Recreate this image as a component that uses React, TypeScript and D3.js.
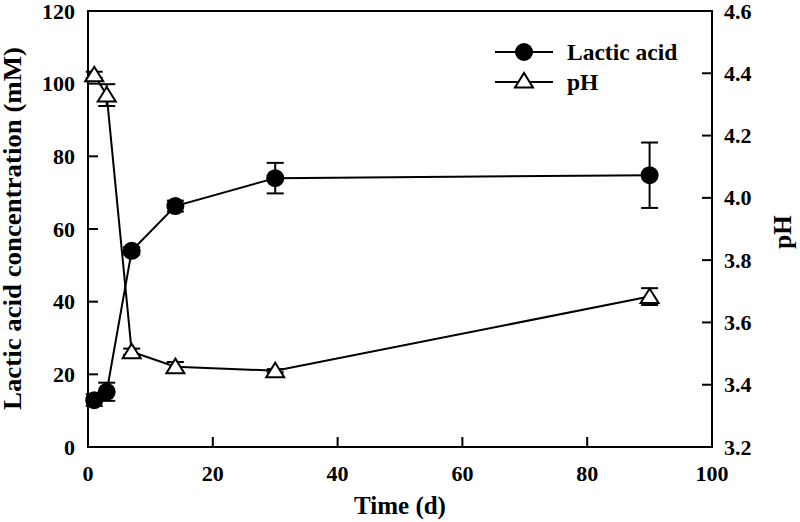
import React from "react";
import * as d3 from "d3";

const days = [1, 3, 7, 14, 30, 90];
const lactic = [12.9, 15.2, 54.0, 66.3, 74.0, 74.8];
const lacticErr = [1.6, 2.5, 1.0, 1.5, 4.2, 9.0];
const ph = [4.395, 4.33, 3.506, 3.458, 3.445, 3.683];
const phErr = [0.01, 0.035, 0.01, 0.015, 0.005, 0.027];
const xTicks = [0, 20, 40, 60, 80, 100];
const yLeftTicks = [0, 20, 40, 60, 80, 100, 120];
const yRightTicks = [3.2, 3.4, 3.6, 3.8, 4.0, 4.2, 4.4, 4.6];

const W = 800, H = 522;
const L = 88, R = 712, T = 11, B = 447;
const FONT = "'Liberation Serif', 'Times New Roman', serif";

export default function App() {
  const x = d3.scaleLinear().domain([0, 100]).range([L, R]);
  const yL = d3.scaleLinear().domain([0, 120]).range([B, T]);
  const yR = d3.scaleLinear().domain([3.2, 4.6]).range([B, T]);

  const lacticLine = d3.line<number>().x((_, i) => x(days[i])).y((v) => yL(v))(lactic) || "";
  const phLine = d3.line<number>().x((_, i) => x(days[i])).y((v) => yR(v))(ph) || "";

  const tri = (cx: number, cy: number) =>
    `M${cx},${cy - 8} L${cx + 9},${cy + 6.5} L${cx - 9},${cy + 6.5} Z`;

  const cap = 8.5;
  const tick = 10;

  return (
    <svg width={W} height={H} style={{ position: "absolute", left: 0, top: 0, background: "#fff" }}>
      <rect x={0} y={0} width={W} height={H} fill="#fff" />
      {/* frame */}
      <rect x={L} y={T} width={R - L} height={B - T} fill="none" stroke="#000" strokeWidth={2} />
      {/* x ticks */}
      {xTicks.map((t) => (
        <g key={"x" + t}>
          <line x1={x(t)} x2={x(t)} y1={B} y2={B - tick} stroke="#000" strokeWidth={2} />
          <text x={x(t)} y={B + 34} textAnchor="middle" fontFamily={FONT} fontWeight="bold" fontSize={22}>{t}</text>
        </g>
      ))}
      {yLeftTicks.map((t) => (
        <g key={"yl" + t}>
          <line x1={L} x2={L + tick} y1={yL(t)} y2={yL(t)} stroke="#000" strokeWidth={2} />
          <text x={L - 13} y={yL(t) + 7.5} textAnchor="end" fontFamily={FONT} fontWeight="bold" fontSize={22}>{t}</text>
        </g>
      ))}
      {yRightTicks.map((t) => (
        <g key={"yr" + t}>
          <line x1={R} x2={R - tick} y1={yR(t)} y2={yR(t)} stroke="#000" strokeWidth={2} />
          <text x={R + 12} y={yR(t) + 7.5} textAnchor="start" fontFamily={FONT} fontWeight="bold" fontSize={22}>{t.toFixed(1)}</text>
        </g>
      ))}
      {/* axis titles */}
      <text x={400} y={514} textAnchor="middle" fontFamily={FONT} fontWeight="bold" fontSize={25}>Time (d)</text>
      <text transform={`translate(21,228.5) rotate(-90)`} textAnchor="middle" fontFamily={FONT} fontWeight="bold" fontSize={25} textLength={363} lengthAdjust="spacingAndGlyphs">Lactic acid concentration (mM)</text>
      <text transform={`translate(791,232) rotate(-90)`} textAnchor="middle" fontFamily={FONT} fontWeight="bold" fontSize={25}>pH</text>

      {/* lines */}
      <path d={lacticLine} fill="none" stroke="#000" strokeWidth={2} />
      <path d={phLine} fill="none" stroke="#000" strokeWidth={2} />

      {/* error bars lactic */}
      {days.map((d, i) => (
        <g key={"el" + i} stroke="#000" strokeWidth={2}>
          <line x1={x(d)} x2={x(d)} y1={yL(lactic[i] - lacticErr[i])} y2={yL(lactic[i] + lacticErr[i])} />
          <line x1={x(d) - cap} x2={x(d) + cap} y1={yL(lactic[i] - lacticErr[i])} y2={yL(lactic[i] - lacticErr[i])} />
          <line x1={x(d) - cap} x2={x(d) + cap} y1={yL(lactic[i] + lacticErr[i])} y2={yL(lactic[i] + lacticErr[i])} />
        </g>
      ))}
      {/* error bars pH */}
      {days.map((d, i) => (
        <g key={"ep" + i} stroke="#000" strokeWidth={2}>
          <line x1={x(d)} x2={x(d)} y1={yR(ph[i] - phErr[i])} y2={yR(ph[i] + phErr[i])} />
          <line x1={x(d) - cap} x2={x(d) + cap} y1={yR(ph[i] - phErr[i])} y2={yR(ph[i] - phErr[i])} />
          <line x1={x(d) - cap} x2={x(d) + cap} y1={yR(ph[i] + phErr[i])} y2={yR(ph[i] + phErr[i])} />
        </g>
      ))}
      {/* markers */}
      {days.map((d, i) => (
        <circle key={"c" + i} cx={x(d)} cy={yL(lactic[i])} r={9} fill="#000" />
      ))}
      {days.map((d, i) => (
        <path key={"t" + i} d={tri(x(d), yR(ph[i]))} fill="#fff" stroke="#000" strokeWidth={2} />
      ))}

      {/* legend */}
      <line x1={495} x2={553} y1={52} y2={52} stroke="#000" strokeWidth={2} />
      <circle cx={524} cy={52} r={9} fill="#000" />
      <text x={567} y={59.5} fontFamily={FONT} fontWeight="bold" fontSize={23.5}>Lactic acid</text>
      <line x1={495} x2={553} y1={82} y2={82} stroke="#000" strokeWidth={2} />
      <path d={tri(524, 81)} fill="#fff" stroke="#000" strokeWidth={2} />
      <text x={567} y={89.5} fontFamily={FONT} fontWeight="bold" fontSize={23.5}>pH</text>
    </svg>
  );
}
